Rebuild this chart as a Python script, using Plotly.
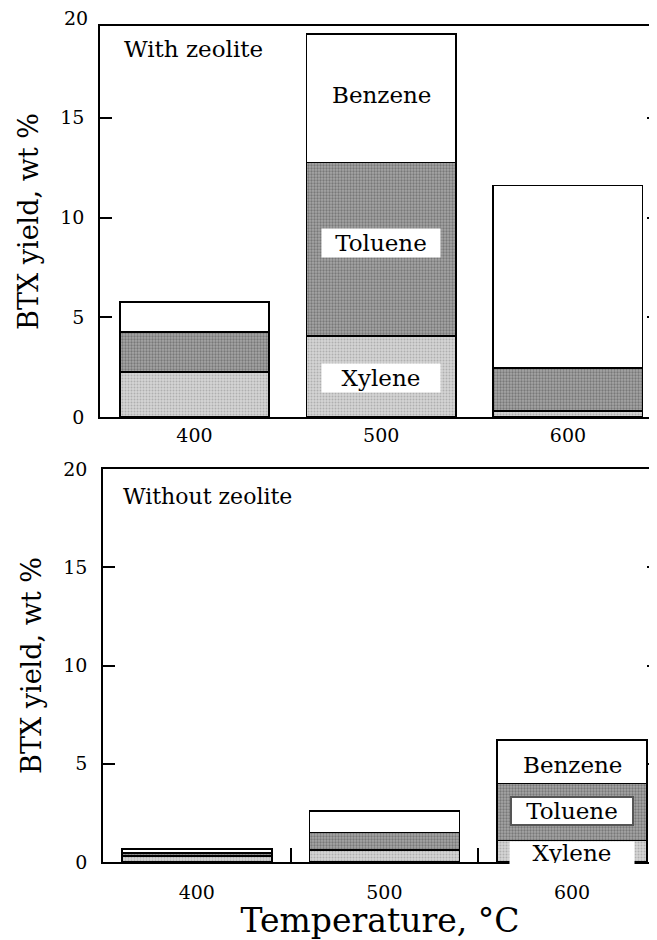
import plotly.graph_objects as go

temps = ["400", "500", "600"]

# With zeolite (top panel), wt %
xylene_with = [2.25, 4.05, 0.30]
toluene_with = [2.00, 8.70, 2.15]
benzene_with = [1.50, 6.45, 9.15]

# Without zeolite (bottom panel), wt %
xylene_without = [0.30, 0.60, 1.10]
toluene_without = [0.15, 0.90, 2.90]
benzene_without = [0.20, 1.10, 2.20]

y_ticks_top = [0, 5, 10, 15]
y_ticks_bottom = [0, 5, 10, 15, 20]
right_ticks = [5, 10, 15]
top_range = [0, 19.6]
bottom_range = [0, 20]

FONT = "DejaVu Serif"
XYL_STYLE = dict(color="#c9c9c9", line=dict(color="black", width=1.6),
                 pattern=dict(shape=".", size=3, solidity=0.35, fgcolor="#8a8a8a", bgcolor="#d4d4d4"))
TOL_STYLE = dict(color="#8f8f8f", line=dict(color="black", width=1.6),
                 pattern=dict(shape=".", size=3, solidity=0.45, fgcolor="#4a4a4a", bgcolor="#a6a6a6"))
BEN_STYLE = dict(color="white", line=dict(color="black", width=1.6))

fig = go.Figure()

for xa, ya, vals in [("x", "y", (xylene_with, toluene_with, benzene_with)),
                     ("x2", "y2", (xylene_without, toluene_without, benzene_without))]:
    for name, v, st in zip(["Xylene", "Toluene", "Benzene"], vals, [XYL_STYLE, TOL_STYLE, BEN_STYLE]):
        fig.add_trace(go.Bar(x=temps, y=v, name=name, marker=st, width=0.8,
                             xaxis=xa, yaxis=ya, showlegend=False, hoverinfo="skip"))

# empty traces so the right-hand tick-only axes are drawn
fig.add_trace(go.Scatter(x=[], y=[], xaxis="x", yaxis="y3", showlegend=False, hoverinfo="skip"))
fig.add_trace(go.Scatter(x=[], y=[], xaxis="x2", yaxis="y4", showlegend=False, hoverinfo="skip"))

axis_font = dict(family=FONT, size=19, color="black")
ytitle_font = dict(family=FONT, size=27, color="black")
xtitle_font = dict(family=FONT, size=33, color="black")

common_y = dict(ticks="inside", ticklen=12, tickwidth=1.6, tickcolor="black",
                showline=True, linecolor="black", linewidth=1.6, showgrid=False, zeroline=False,
                tickfont=axis_font, ticklabelstandoff=10, automargin=False)
right_y = dict(side="right", ticks="inside", ticklen=10, tickwidth=1.6, tickcolor="black",
               showticklabels=False, showline=False, showgrid=False, zeroline=False, automargin=False)

fig.update_layout(
    width=649, height=932,
    margin=dict(l=92, r=0, t=0, b=0, autoexpand=False),
    paper_bgcolor="white", plot_bgcolor="white",
    barmode="stack",
    font=dict(family=FONT, color="black"),
    xaxis=dict(domain=[0, 1], anchor="y", type="category", range=[-0.506, 2.477],
               showline=True, linecolor="black", linewidth=1.6, mirror=True,
               ticks="", showgrid=False, tickfont=axis_font, ticklabelstandoff=0, automargin=False),
    yaxis=dict(domain=[0.56116, 0.98069], anchor="x", range=top_range, tickvals=y_ticks_top,
               title=dict(text="BTX yield, wt %", font=ytitle_font, standoff=14), **common_y),
    yaxis3=dict(overlaying="y", anchor="x", range=top_range, tickvals=right_ticks, **right_y),
    xaxis2=dict(domain=[3 / 557, 1], anchor="y2", type="category", range=[-0.5, 2.453],
                showline=True, linecolor="black", linewidth=1.6, mirror=True,
                ticks="inside", tickson="boundaries", ticklen=14, tickwidth=1.6, tickcolor="black",
                showgrid=False, tickfont=axis_font, ticklabelstandoff=12, automargin=False,
                title=dict(text="Temperature, °C", font=xtitle_font, standoff=0)),
    yaxis2=dict(domain=[0.08369, 0.50536], anchor="x2", range=bottom_range, tickvals=y_ticks_bottom,
                title=dict(text="BTX yield, wt %", font=ytitle_font, standoff=14), **common_y),
    yaxis4=dict(overlaying="y2", anchor="x2", range=bottom_range, tickvals=right_ticks, **right_y),
)

ann_font = dict(family=FONT, size=23, color="black")
annotations = [
    dict(text="20", xref="paper", x=0, xanchor="right", xshift=-10,
         yref="y domain", y=20 / top_range[1], yanchor="middle", showarrow=False, font=axis_font),
    dict(text="With zeolite", xref="paper", x=0.04, xanchor="left", yref="y", y=18.45,
         showarrow=False, font=ann_font),
    dict(text="Without zeolite", xref="paper", x=0.037, xanchor="left", yref="y2", y=18.6,
         showarrow=False, font=dict(family=FONT, size=22, color="black")),
    dict(text="Benzene", xref="x", x=1, yref="y", y=16.15, showarrow=False, font=ann_font),
    dict(text="Toluene", xref="x", x=1, yref="y", y=8.73, showarrow=False, font=ann_font,
         bgcolor="white", width=116, height=26),
    dict(text="Xylene", xref="x", x=1, yref="y", y=1.96, showarrow=False, font=ann_font,
         bgcolor="white", width=116, height=26),
    dict(text="Benzene", xref="x2", x=2, yref="y2", y=4.95, showarrow=False, font=ann_font),
    dict(text="Toluene", xref="x2", x=2, yref="y2", y=2.6, showarrow=False, font=ann_font,
         bgcolor="white", bordercolor="#555555", borderwidth=2, width=118, height=24),
    dict(text="Xylene", xref="x2", x=2, yref="y2", y=0.45, showarrow=False, font=ann_font,
         bgcolor="white", width=122, height=20),
]
fig.update_layout(annotations=annotations)

fig.write_html("out.html")
